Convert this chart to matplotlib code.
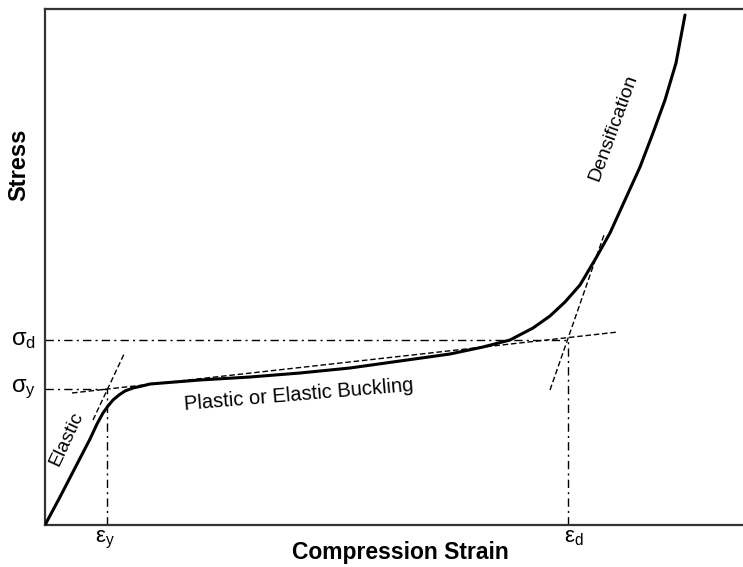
import numpy as np
import matplotlib.pyplot as plt

plt.rcParams['font.family'] = ['Liberation Sans', 'DejaVu Sans']

# stress-strain curve (arbitrary units)
strain = [0, 15, 30, 45, 52, 58, 63, 68, 74, 80, 88, 97, 105, 155, 205, 255, 305, 355,
          405, 438, 465, 488, 505, 520, 535, 551, 565, 580, 595, 608, 620, 631, 640]
stress = [0, 28, 57, 86, 101, 112, 119, 125, 130, 134, 137, 139, 141, 145, 148, 152,
          157, 164, 171, 178, 185, 197, 209, 223, 240, 267, 292, 325, 358, 392, 425,
          462, 510]

# construction lines
elastic_x = [48, 80]
elastic_y = [105, 173]
plateau_x = [27, 573]
plateau_y = [132, 193]
dens_x = [505, 559]
dens_y = [135, 290]

eps_y = 62
eps_d = 523
sig_y = 136
sig_d = 185

fig = plt.figure(figsize=(7.43, 5.67), dpi=100)
ax = fig.add_axes([45/743, 42/567, 705/743, 516/567])
ax.set_xlim(0, 705)
ax.set_ylim(0, 516)

ax.plot(strain, stress, color='black', lw=2.2, solid_capstyle='round',
        solid_joinstyle='round', zorder=3)
ax.plot(elastic_x, elastic_y, color='black', lw=1, ls=(0, (4, 2)))
ax.plot(plateau_x, plateau_y, color='black', lw=1, ls=(0, (4, 2)))
ax.plot(dens_x, dens_y, color='black', lw=1, ls=(0, (4, 2)))

dashdot = (0, (6, 3, 1.5, 3))
ax.plot([0, eps_y], [sig_y, sig_y], color='black', lw=1, ls=dashdot)
ax.plot([0, eps_d], [sig_d, sig_d], color='black', lw=1, ls=dashdot)
ax.plot([eps_y, eps_y], [0, sig_y], color='black', lw=1, ls=dashdot)
ax.plot([eps_d, eps_d], [0, sig_d], color='black', lw=1, ls=dashdot)

for s in ax.spines.values():
    s.set_linewidth(1.6)
    s.set_color('#333333')
ax.set_xticks([])
ax.set_yticks([])

ax.text(-22, sig_d, r'$\mathregular{\sigma_d}$', fontsize=17, ha='center', va='center')
ax.text(-22, sig_y, r'$\mathregular{\sigma_y}$', fontsize=17, ha='center', va='center')
ax.text(eps_y - 2, -15, r'$\mathregular{\varepsilon_y}$', fontsize=16, ha='center', va='center')
ax.text(eps_d + 6, -12, r'$\mathregular{\varepsilon_d}$', fontsize=16, ha='center', va='center')

ax.text(355, -28, 'Compression Strain', fontsize=16.5, fontweight='bold',
        ha='center', va='center')
ax.text(-26, 360, 'Stress', fontsize=17, fontweight='bold', rotation=90,
        ha='center', va='center')

ax.text(21, 86, 'Elastic', fontsize=14, rotation=65, ha='center', va='center')
ax.text(254, 130, 'Plastic or Elastic Buckling', fontsize=14.5, rotation=4.8,
        ha='center', va='center')
ax.text(568, 397, 'Densification', fontsize=14, rotation=70, ha='center', va='center')

fig.savefig('out.png', dpi=100)
